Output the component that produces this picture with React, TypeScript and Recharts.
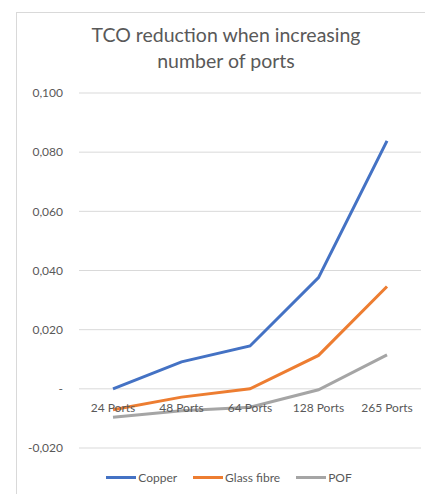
import React from 'react';
import { LineChart, Line, XAxis, YAxis, CartesianGrid } from 'recharts';

const categories = ['24 Ports', '48 Ports', '64 Ports', '128 Ports', '265 Ports'];
const copper = [0.0, 0.0091, 0.0145, 0.0376, 0.0838];
const glassFibre = [-0.0071, -0.0028, 0.0, 0.0113, 0.0346];
const pof = [-0.0096, -0.0074, -0.0062, -0.0003, 0.0115];
const yTicks = [-0.02, 0, 0.02, 0.04, 0.06, 0.08, 0.1];

const series = [
  { key: 'copper', name: 'Copper', color: '#4472C4' },
  { key: 'glassFibre', name: 'Glass fibre', color: '#ED7D31' },
  { key: 'pof', name: 'POF', color: '#A5A5A5' },
];

const data = categories.map((name, i) => ({
  name,
  copper: copper[i],
  glassFibre: glassFibre[i],
  pof: pof[i],
}));

const FONT = 'Lato, "Open Sans", sans-serif';
const TEXT = '#595959';
const Y_MIN = -0.02;
const Y_MAX = 0.1;
const PLOT_TOP = 93;
const PLOT_BOTTOM = 448;
const X_AXIS_H = 10;
// Excel draws the category labels against the zero line, not the bottom
const ZERO_SHIFT = ((PLOT_BOTTOM - PLOT_TOP) * (0 - Y_MIN)) / (Y_MAX - Y_MIN);

const fmtY = (v: number) => (v === 0 ? '-' : v.toFixed(3).replace('.', ','));

const CategoryTick = (props: any) => {
  const { x, y, payload } = props;
  return (
    <text x={x} y={y - ZERO_SHIFT + 19} textAnchor="middle" dominantBaseline="central" fill={TEXT} fontSize={12} fontFamily={FONT}>
      {payload.value}
    </text>
  );
};

const Legend = () => (
  <div style={{ position: 'absolute', top: 470, left: 0, width: 458, display: 'flex', justifyContent: 'center', gap: 16, fontFamily: FONT, fontSize: 12, color: TEXT }}>
    {series.map((s) => (
      <div key={s.key} style={{ display: 'flex', alignItems: 'center' }}>
        <span style={{ display: 'inline-block', width: 30, height: 3, background: s.color, marginRight: 2 }} />
        <span>{s.name}</span>
      </div>
    ))}
  </div>
);

export default function App() {
  return (
    <div style={{ position: 'relative', width: 425, height: 494, overflow: 'hidden', background: '#fff' }}>
      <style>{'html,body{margin:0;padding:0;overflow:hidden;}'}</style>
      <div style={{ position: 'absolute', left: 16, top: 12, width: 500, height: 600, border: '1px solid #d9d9d9' }} />
      <div style={{ position: 'absolute', top: 22, left: 0, width: 452, textAlign: 'center', fontFamily: FONT, fontSize: 19.5, color: TEXT, lineHeight: '26px' }}>
        TCO reduction when increasing
        <br />
        number of ports
      </div>
      <div style={{ position: 'absolute', left: 0, top: 0 }}>
        <LineChart width={425} height={494} data={data} margin={{ top: PLOT_TOP, right: 4, left: 19, bottom: 494 - PLOT_BOTTOM - X_AXIS_H }}>
          <CartesianGrid vertical={false} stroke="#d9d9d9" strokeWidth={1} />
          <XAxis
            dataKey="name"
            axisLine={false}
            tickLine={false}
            height={X_AXIS_H}
            tickSize={0}
            tickMargin={0}
            padding={{ left: 34, right: 34 }}
            interval={0}
            tick={CategoryTick}
          />
          <YAxis
            domain={[Y_MIN, Y_MAX]}
            ticks={yTicks}
            width={60}
            axisLine={false}
            tickLine={false}
            tickSize={0}
            tickMargin={16}
            tickFormatter={fmtY}
            tick={{ fill: TEXT, fontSize: 12, fontFamily: FONT }}
          />
          {series.map((s) => (
            <Line
              key={s.key}
              type="linear"
              dataKey={s.key}
              name={s.name}
              stroke={s.color}
              strokeWidth={3}
              dot={false}
              isAnimationActive={false}
            />
          ))}
        </LineChart>
      </div>
      <Legend />
    </div>
  );
}
